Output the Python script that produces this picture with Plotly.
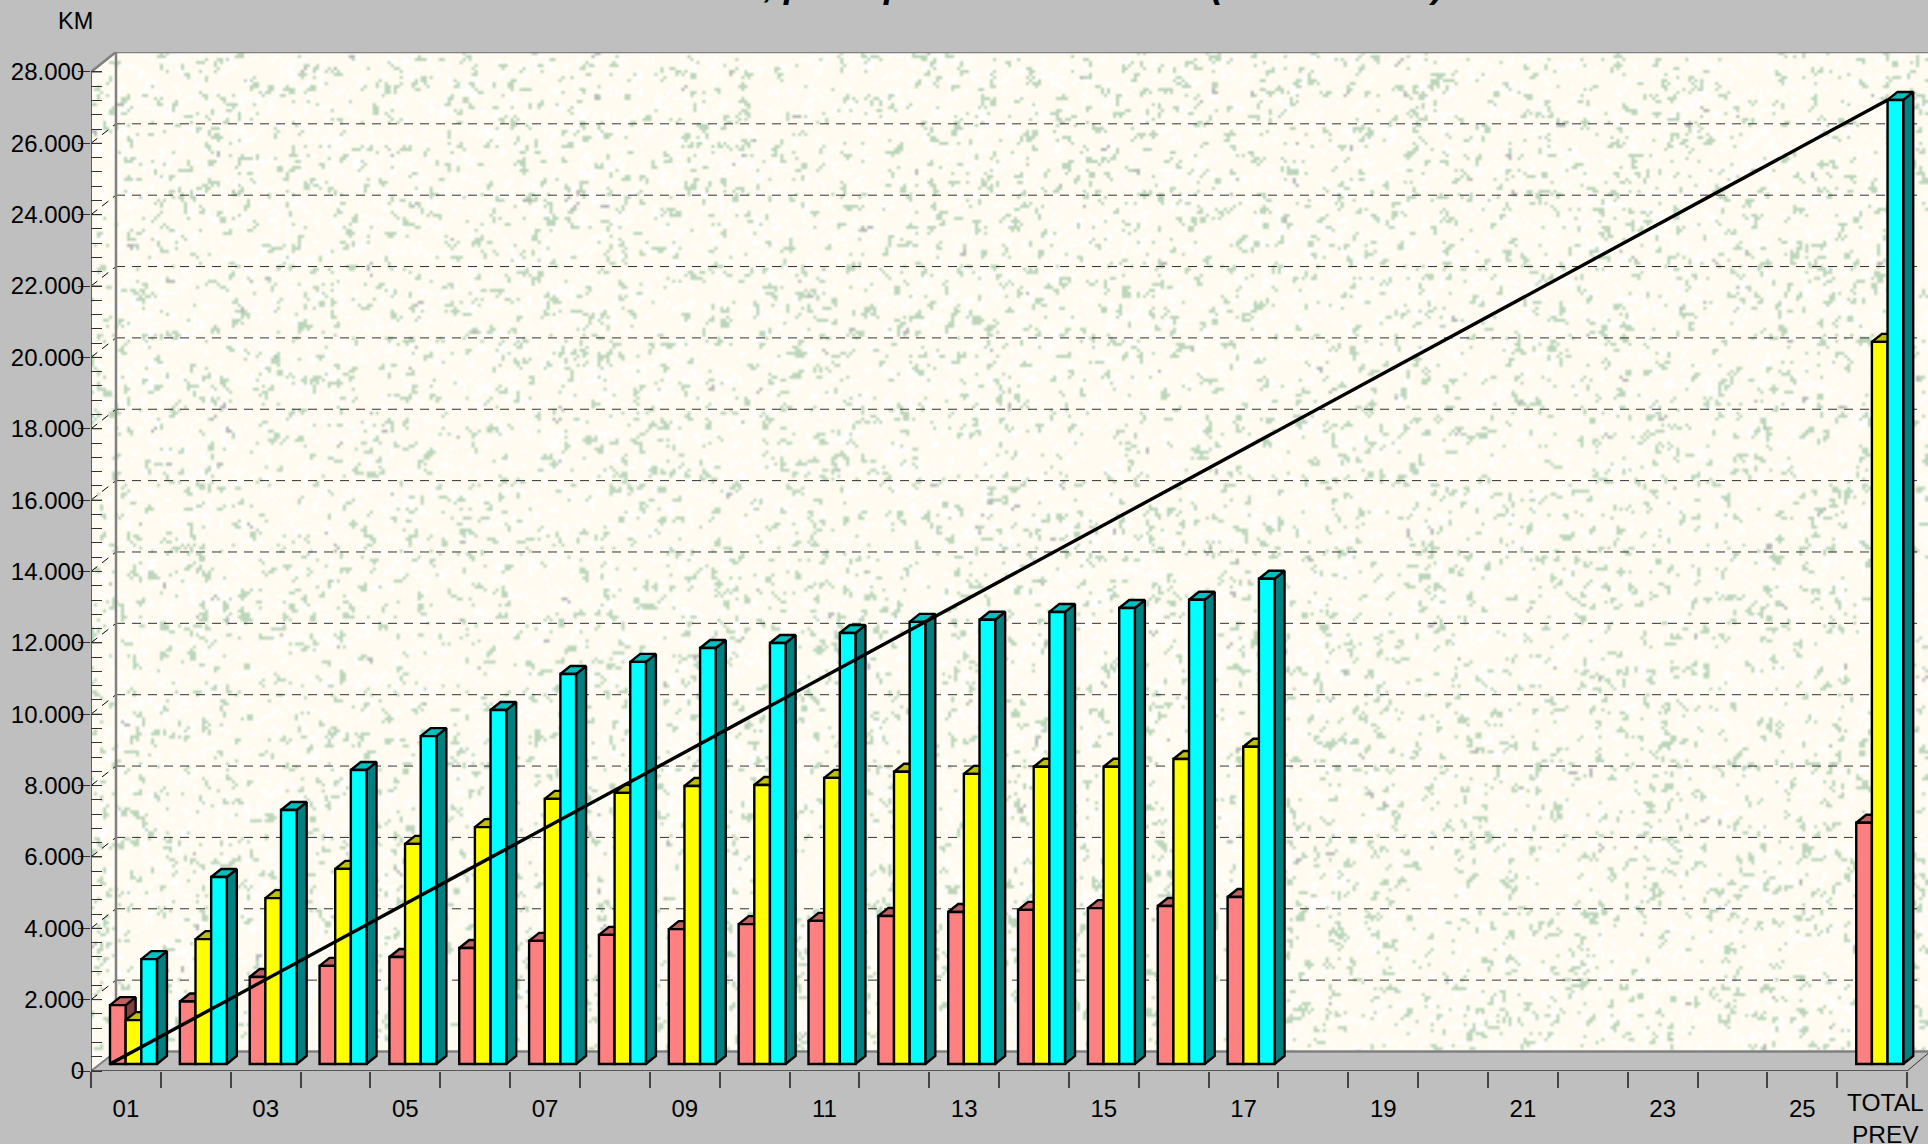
import base64
import math
import struct
import zlib

import numpy as np
import plotly.graph_objects as go

# ---------- data ----------
day_labels = ["01", "03", "05", "07", "09", "11", "13", "15", "17", "19", "21", "23", "25"]
day_ticks = [1, 3, 5, 7, 9, 11, 13, 15, 17, 19, 21, 23, 25]
bar_positions = [1, 2, 3, 4, 5, 6, 7, 8, 9, 10, 11, 12, 13, 14, 15, 16, 17, 26]
red_values = [1650, 1750, 2440, 2750, 3000, 3250, 3450, 3620, 3780, 3920, 4010, 4150, 4260, 4320, 4370, 4430, 4680, 6760]
yellow_values = [1230, 3500, 4650, 5470, 6170, 6640, 7430, 7600, 7790, 7820, 8020, 8190, 8130, 8330, 8330, 8550, 8890, 20240]
cyan_values = [2940, 5240, 7120, 8240, 9190, 9920, 10930, 11270, 11660, 11800, 12080, 12390, 12450, 12670, 12780, 13010, 13600, 27020]
line_values = [0, 27020]
grid_values = list(range(2000, 28000, 2000))
title_bits = [(", p", 0), ("p", 1), ("(", 2), (")", 3)]

# ---------- geometry of the pseudo 3D frame (pixels of the page) ----------
W, H = 1928, 1144
L, R, T, B = 91, 1928, 52, 1071
CAT = 69.85
UNIT = 2000 / 71.36          # value units per pixel
BG = "#BFBFBF"
WALL_DX, WALL_DY = 25 / CAT, 19.5 * UNIT
BAR_DX, BAR_DY = 10 / CAT, 8 * UNIT
BAR_W = 15.65 / CAT
BAR_BASE = 7 * UNIT
X0 = 0.5
X1 = X0 + (R - L) / CAT
Y1 = (B - T) * UNIT
OFFSETS = [19 / CAT - 0.5, 19 / CAT - 0.5 + BAR_W, 19 / CAT - 0.5 + 2 * BAR_W]


def wall_texture():
    """Speckled wallpaper (decoration only), deterministic hash noise."""
    cell = 3
    w, h = (R - L) // cell + 1, (B - T) // cell + 1
    img = np.zeros((h, w, 3), dtype=np.uint8)
    img[:, :] = (255, 251, 240)

    def hsh(x, y, k):
        v = math.sin(x * 12.9898 + y * 78.233 + k * 37.719) * 43758.5453
        return v - math.floor(v)

    dirs = [(1, 0), (0, 1), (1, 1), (1, -1), (-1, 1), (0, -1), (-1, 0), (1, 0), (0, 1)]

    def blob(x, y, col, steps):
        px, py = x, y
        for i in range(steps):
            if 0 <= px < w and 0 <= py < h:
                img[py, px] = col
            d = dirs[int(hsh(x + i, y, 5 + i) * 9) % 9]
            px += d[0]
            py += d[1]

    # white flecks first, coloured flecks over them
    for y in range(h):
        for x in range(w):
            if hsh(x, y, 1) < 0.10:
                blob(x, y, (255, 255, 255), 1 + int(hsh(x, y, 3) * 3))
    for y in range(h):
        for x in range(w):
            n = hsh(x, y, 7)
            if n < 0.036:
                blob(x, y, (187, 214, 187), 1 + int(hsh(x, y, 3) ** 2 * 6))
            elif n < 0.0375:
                blob(x, y, (182, 184, 184), 1 + int(hsh(x, y, 3) * 3))
    raw = b"".join(b"\x00" + img[r].tobytes() for r in range(h))

    def chunk(tag, data):
        body = tag + data
        return struct.pack(">I", len(data)) + body + struct.pack(">I", zlib.crc32(body))

    png = b"\x89PNG\r\n\x1a\n"
    png += chunk(b"IHDR", struct.pack(">IIBBBBB", w, h, 8, 2, 0, 0, 0))
    png += chunk(b"IDAT", zlib.compress(raw, 9))
    png += chunk(b"IEND", b"")
    return "data:image/png;base64," + base64.b64encode(png).decode()


def faces(values, offset):
    top_x, top_y, side_x, side_y = [], [], [], []
    for c, v in zip(bar_positions, values):
        a = c + offset
        b = a + BAR_W
        y0 = BAR_BASE
        y = BAR_BASE + v
        top_x += [a, b, b + BAR_DX, a + BAR_DX, a, None]
        top_y += [y, y, y + BAR_DY, y + BAR_DY, y, None]
        side_x += [b, b, b + BAR_DX, b + BAR_DX, b, None]
        side_y += [y0, y, y + BAR_DY, y0 + BAR_DY, y0, None]
    return top_x, top_y, side_x, side_y


fig = go.Figure()
series = [
    ("Red", red_values, "#FF8080", "#C06060", "#804040"),
    ("Yellow", yellow_values, "#FFFF00", "#C0C000", "#808000"),
    ("Cyan", cyan_values, "#00FFFF", "#00C0C0", "#008080"),
]
z = 1
for (name, vals, front, top, side), off in zip(series, OFFSETS):
    tx, ty, sx, sy = faces(vals, off)
    for xs, ys, col in ((sx, sy, side), (tx, ty, top)):
        fig.add_trace(go.Scatter(x=xs, y=ys, mode="lines", fill="toself", fillcolor=col,
                                 line=dict(color="black", width=2.4), hoverinfo="skip",
                                 showlegend=False, zorder=z))
    z += 1
    fig.add_trace(go.Bar(x=bar_positions, y=vals, base=BAR_BASE, width=BAR_W, offset=off,
                         marker=dict(color=front, line=dict(color="black", width=2.4)),
                         name=name, showlegend=False, zorder=z))
    z += 1

fig.add_trace(go.Scatter(x=[bar_positions[0] + OFFSETS[0], bar_positions[-1] + OFFSETS[2]],
                         y=[BAR_BASE + v for v in line_values], mode="lines",
                         line=dict(color="black", width=3.4), showlegend=False, zorder=z))

shapes = []
GRAY = "#808080"
# background corners + floor
shapes.append(dict(type="path", layer="below", fillcolor=BG, line=dict(width=0),
                   path=f"M {X0} {Y1} L {X0 + WALL_DX} {Y1} L {X0} {28000} Z"))
shapes.append(dict(type="path", layer="below", fillcolor=BG, line=dict(width=0),
                   path=f"M {X0} 0 L {X0 + WALL_DX} {WALL_DY} L {X1} {WALL_DY} L {X1} 0 Z"))


def seg(x0, y0, x1, y1, color, width, dash=None):
    shapes.append(dict(type="line", layer="below", x0=x0, y0=y0, x1=x1, y1=y1,
                       line=dict(color=color, width=width, dash=dash or "solid")))


for t in grid_values:
    seg(X0 + WALL_DX, t + WALL_DY, X1 - 6 / CAT, t + WALL_DY, "#333333", 1, "9px,7px")
    seg(X0, t, X0 + WALL_DX, t + WALL_DY, "black", 1, "8px,6px")
    seg(X0, t, X0 + 11 / CAT, t, "#333333", 1)
seg(X0 + 11 / CAT * 0, 28000, X0 + 11 / CAT, 28000, "#333333", 1)
seg(X0 + WALL_DX, WALL_DY, X0 + WALL_DX, Y1, GRAY, 2.5)
seg(X0 + WALL_DX, Y1 - 1, X1, Y1 - 1, GRAY, 2.5)
seg(X0 + WALL_DX, WALL_DY, X1, WALL_DY, GRAY, 2.5)
seg(X0, 28000, X0 + WALL_DX, Y1, GRAY, 2.5)
seg(X0, 0, X0 + WALL_DX, WALL_DY, GRAY, 2)
seg(X0, 0, X0, 28000, "#606060", 2)
seg(X0, 0, 26.5, 0, "#333333", 1.5)
seg(26.5, 0, X1, WALL_DY * 0.9, "#333333", 1)

annotations = [
    dict(text="KM", xref="paper", yref="paper", x=(75 - L) / (R - L), y=(B - 20.5) / (B - T),
         xanchor="center", yanchor="middle", showarrow=False, font=dict(size=23.5, color="black")),
    dict(text="TOTAL<br>PREV", xref="x", yref="paper", x=26.19, y=(B - 1118) / (B - T),
         xanchor="center", yanchor="middle", showarrow=False, font=dict(size=24.5, color="black")),
]
title_px = [761, 894, 1219, 1436]
# only the feet of the heading's letters fall inside the page
for (txt, i) in title_bits:
    annotations.append(dict(text=f"<b><i>{txt}</i></b>", xref="paper", yref="paper",
                            x=(title_px[i] - L) / (R - L),
                            y=(B - (-16)) / (B - T), xanchor="left" if i == 0 else "center",
                            yanchor="middle", showarrow=False,
                            font=dict(size=36, color="black", family="Liberation Sans")))

fig.update_layout(
    width=W, height=H, margin=dict(l=L, r=W - R, t=T, b=H - B, pad=0),
    paper_bgcolor=BG, plot_bgcolor="rgba(0,0,0,0)",
    barmode="overlay", showlegend=False, separators=",.",
    font=dict(family="Liberation Sans", size=24, color="black"),
    shapes=shapes, annotations=annotations,
    images=[dict(source=wall_texture(), xref="paper", yref="paper", x=0, y=1, sizex=1, sizey=1,
                 sizing="stretch", xanchor="left", yanchor="top", layer="below")],
    xaxis=dict(range=[X0, X1], tickmode="array", tickvals=day_ticks, ticktext=day_labels,
               ticks="", showgrid=False, zeroline=False, showline=False, ticklabelstandoff=21,
               minor=dict(ticks="outside", tickmode="linear", tick0=0.5, dtick=1, ticklen=16,
                          tickwidth=1.5, tickcolor="#444444", showgrid=False)),
    yaxis=dict(range=[0, Y1], tickmode="linear", tick0=0, dtick=2000, tickformat=",d",
               ticks="outside", ticklen=12, tickwidth=1, tickcolor="#333333",
               showgrid=False, zeroline=False, showline=False, ticklabelstandoff=-11,
               minor=dict(ticks="inside", tickmode="array", tickvals=list(range(0, 28001, 400)),
                          ticklen=11, tickwidth=1, tickcolor="#333333", showgrid=False)),
)

fig.write_html("out.html", config=dict(displayModeBar=False),
               post_script="document.body.style.margin='0';document.documentElement.style.overflow='hidden';")
